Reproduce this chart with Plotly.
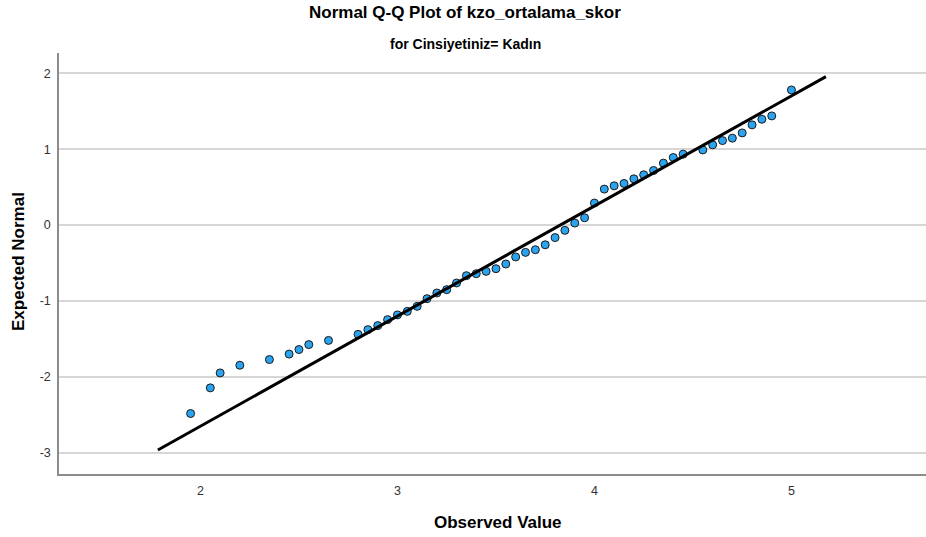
import plotly.graph_objects as go

# Data
observed = [1.95, 2.05, 2.10, 2.20, 2.35, 2.45, 2.50, 2.55, 2.65,
            2.80, 2.85, 2.90, 2.95, 3.00, 3.05, 3.10, 3.15, 3.20, 3.25,
            3.30, 3.35, 3.40, 3.45, 3.50, 3.55, 3.60, 3.65, 3.70, 3.75,
            3.80, 3.85, 3.90, 3.95, 4.00, 4.05, 4.10, 4.15, 4.20, 4.25,
            4.30, 4.35, 4.40, 4.45, 4.55, 4.60, 4.65, 4.70, 4.75, 4.80,
            4.85, 4.90, 5.00]
expected = [-2.483, -2.145, -1.948, -1.847, -1.772, -1.700, -1.640, -1.575, -1.520,
            -1.440, -1.378, -1.325, -1.246, -1.184, -1.137, -1.071, -0.970, -0.895, -0.851,
            -0.763, -0.667, -0.641, -0.610, -0.575, -0.513, -0.420, -0.360, -0.325, -0.260,
            -0.165, -0.070, 0.026, 0.096, 0.290, 0.474, 0.517, 0.548, 0.609, 0.662,
            0.719, 0.816, 0.890, 0.934, 0.990, 1.057, 1.113, 1.145, 1.214, 1.320,
            1.394, 1.438, 1.780]
line_x = [1.784, 5.175]
line_y = [-2.963, 1.955]
x_ticks = [2, 3, 4, 5]
x_ticktext = ["2", "3", "4", "5"]
y_ticks = [-3, -2, -1, 0, 1, 2]
y_ticktext = ["-3", "-2", "-1", "0", "1", "2"]

title_text = "Normal Q-Q Plot of kzo_ortalama_skor"
subtitle_text = "for Cinsiyetiniz= Kadın"
x_title = "Observed Value"
y_title = "Expected Normal"

FONT = "Liberation Sans, Arial, sans-serif"

W, H = 926, 537
L, R, T, B = 59, 0, 53, 63
pw, ph = W - L - R, H - T - B


def px(x):
    return (x - L) / pw


def py(y):
    return (H - B - y) / ph


fig = go.Figure()
fig.add_trace(go.Scatter(
    x=observed, y=expected, mode="markers",
    marker=dict(size=8, color="#2ba3ee", line=dict(color="#1a1a1a", width=1)),
    showlegend=False, hoverinfo="x+y"))
fig.add_trace(go.Scatter(
    x=line_x, y=line_y, mode="lines",
    line=dict(color="black", width=3), showlegend=False, hoverinfo="skip"))

fig.update_layout(
    width=W, height=H,
    margin=dict(l=L, r=R, t=T, b=B),
    paper_bgcolor="white", plot_bgcolor="white",
    font=dict(family=FONT, color="#000"),
    annotations=[
        dict(text="<b>" + title_text + "</b>", x=px(465), y=py(13),
             font=dict(size=17, family=FONT)),
        dict(text="<b>" + subtitle_text + "</b>", x=px(465), y=py(44),
             font=dict(size=14, family=FONT)),
        dict(text="<b>" + x_title + "</b>", x=px(498), y=py(522),
             font=dict(size=17, family=FONT)),
        dict(text="<b>" + y_title + "</b>", x=px(18), y=py(262), textangle=-90,
             font=dict(size=17, family=FONT)),
    ],
)
fig.update_annotations(xref="paper", yref="paper", showarrow=False,
                       xanchor="center", yanchor="middle")

fig.update_xaxes(
    range=[1.282, 5.683], tickvals=x_ticks, ticktext=x_ticktext,
    showgrid=False, zeroline=False,
    showline=True, linecolor="#8c8c8c", linewidth=1.5, ticks="",
    ticklabelstandoff=4, tickfont=dict(size=12.5, color="#333", family=FONT))
fig.update_yaxes(
    range=[-3.28, 2.267], tickvals=y_ticks, ticktext=y_ticktext,
    showgrid=True, gridcolor="#d6d6d6",
    gridwidth=1.5, zeroline=False, showline=True, linecolor="#8c8c8c", linewidth=1.5,
    ticks="", ticklabelstandoff=4, tickfont=dict(size=12.5, color="#333", family=FONT))

fig.write_html("out.html", config={"displayModeBar": False},
               post_script="document.body.style.margin='0';")
